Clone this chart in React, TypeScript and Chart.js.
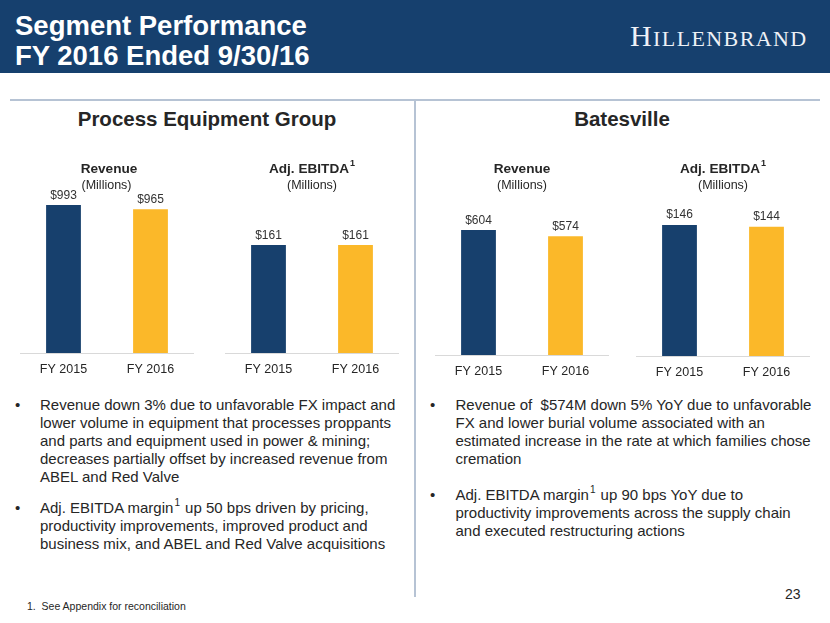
import React, { useEffect, useRef } from "react";
import { Chart, registerables } from "chart.js";

Chart.register(...registerables);

// ---------- data ----------
const categories = ["FY 2015", "FY 2016"];
const pegRevenue = [993, 965];
const pegEbitda = [161, 161];
const batesRevenue = [604, 574];
const batesEbitda = [146, 144];
const barColors = ["#17406d", "#fbb829"];

const FONT = "'Liberation Sans', Arial, Helvetica, sans-serif";
const TEXT = "#262626";
const NAVY = "#16406e";
const RULE = "#b6c3d4";

const leftBullet1 = [
  "Revenue down 3% due to unfavorable FX impact and",
  "lower volume in equipment that processes proppants",
  "and parts and equipment used in power & mining;",
  "decreases partially offset by increased revenue from",
  "ABEL and Red Valve",
];
const leftBullet2 = [
  ["Adj. EBITDA margin", "1", " up 50 bps driven by pricing,"],
  ["productivity improvements, improved product and"],
  ["business mix, and ABEL and Red Valve acquisitions"],
];
const rightBullet1 = [
  "Revenue of  $574M down 5% YoY due to unfavorable",
  "FX and lower burial volume associated with an",
  "estimated increase in the rate at which families chose",
  "cremation",
];
const rightBullet2 = [
  ["Adj. EBITDA margin", "1", " up 90 bps YoY due to"],
  ["productivity improvements across the supply chain"],
  ["and executed restructuring actions"],
];

const AXIS_H = 32;

// ---------- chart panel ----------
function BarPanel(props: {
  values: number[];
  yMax: number;
  left: number;
  top: number;
  width: number;
  height: number;
}) {
  const ref = useRef<HTMLCanvasElement | null>(null);
  useEffect(() => {
    const valueLabels = {
      id: "valueLabels",
      afterDatasetsDraw(chart: any) {
        const ctx = chart.ctx;
        const meta = chart.getDatasetMeta(0);
        const data = chart.data.datasets[0].data as number[];
        ctx.save();
        ctx.font = `12px ${FONT}`;
        ctx.fillStyle = "#333333";
        ctx.textAlign = "center";
        ctx.textBaseline = "alphabetic";
        meta.data.forEach((bar: any, i: number) => {
          ctx.fillText("$" + data[i], bar.x, bar.y - 6.5);
        });
        ctx.restore();
      },
    };
    const chart = new Chart(ref.current as HTMLCanvasElement, {
      type: "bar",
      data: {
        labels: categories,
        datasets: [
          {
            data: props.values,
            backgroundColor: barColors,
            borderWidth: 0,
            categoryPercentage: 0.4,
            barPercentage: 1,
          },
        ],
      },
      options: {
        responsive: false,
        maintainAspectRatio: false,
        animation: false,
        devicePixelRatio: 1,
        layout: { padding: { top: 30, left: 0, right: 0, bottom: 0 } },
        plugins: {
          legend: { display: false },
          tooltip: { enabled: false },
          title: { display: false },
        },
        scales: {
          x: {
            grid: { display: false, drawTicks: false },
            border: { display: true, color: "#d9d9d9", width: 1 },
            ticks: {
              color: TEXT,
              font: { family: FONT, size: 12.5 },
              padding: 9,
            },
            afterFit: (scale: any) => {
              scale.height = AXIS_H;
            },
          },
          y: { display: false, min: 0, max: props.yMax },
        },
      },
      plugins: [valueLabels],
    });
    return () => chart.destroy();
  }, []);
  return (
    <canvas
      ref={ref}
      width={props.width}
      height={props.height}
      style={{
        position: "absolute",
        left: props.left,
        top: props.top,
        width: props.width,
        height: props.height,
      }}
    />
  );
}

function ChartTitle(props: { cx: number; title: string; sup?: boolean; subCx: number }) {
  return (
    <>
      <div
        style={{
          position: "absolute",
          left: props.cx - 100,
          top: 161,
          width: 200,
          textAlign: "center",
          font: `bold 13.6px ${FONT}`,
          lineHeight: "16px",
          color: TEXT,
          whiteSpace: "nowrap",
        }}
      >
        {props.title}
        {props.sup ? (
          <span style={{ position: "absolute", fontSize: 9, marginLeft: 1, top: -6, fontWeight: "bold" }}>1</span>
        ) : null}
      </div>
      <div
        style={{
          position: "absolute",
          left: props.subCx - 100,
          top: 178,
          width: 200,
          textAlign: "center",
          font: `12.5px ${FONT}`,
          lineHeight: "14px",
          color: TEXT,
        }}
      >
        (Millions)
      </div>
    </>
  );
}

function Bullet(props: {
  lines: (string | string[])[];
  top: number;
  bulletX: number;
  textX: number;
}) {
  return (
    <div style={{ position: "absolute", left: 0, top: props.top }}>
      <div
        style={{
          position: "absolute",
          left: props.bulletX,
          top: 0,
          font: `15px ${FONT}`,
          lineHeight: "18px",
          color: TEXT,
        }}
      >
        •
      </div>
      {props.lines.map((ln, i) => (
        <div
          key={i}
          style={{
            position: "absolute",
            left: props.textX,
            top: i * 18.1,
            font: `15px ${FONT}`,
            lineHeight: "18px",
            color: TEXT,
            whiteSpace: "pre",
          }}
        >
          {typeof ln === "string" ? (
            ln
          ) : ln.length === 1 ? (
            ln[0]
          ) : (
            <>
              {ln[0]}
              <span style={{ position: "relative", top: -7, fontSize: 10, marginLeft: 1, marginRight: 1 }}>
                {ln[1]}
              </span>
              {ln[2]}
            </>
          )}
        </div>
      ))}
    </div>
  );
}

export default function App() {
  useEffect(() => {
    document.body.style.margin = "0";
  }, []);
  return (
    <div
      style={{
        position: "absolute",
        left: 0,
        top: 0,
        width: 830,
        height: 623,
        background: "#ffffff",
        overflow: "hidden",
        fontFamily: FONT,
      }}
    >
      {/* header band */}
      <div style={{ position: "absolute", left: 0, top: 0, width: 830, height: 73, background: NAVY }} />
      <div
        style={{
          position: "absolute",
          left: 15,
          top: 11,
          font: `bold 27.5px ${FONT}`,
          lineHeight: "30px",
          color: "#ffffff",
          whiteSpace: "nowrap",
        }}
      >
        Segment Performance
        <br />
        FY 2016 Ended 9/30/16
      </div>
      <div
        style={{
          position: "absolute",
          left: 630,
          top: 21,
          fontFamily: "'Liberation Serif', 'Times New Roman', serif",
          lineHeight: "30px",
          color: "#eef1f6",
          letterSpacing: "1.4px",
          whiteSpace: "nowrap",
        }}
      >
        <span style={{ fontSize: 30 }}>H</span>
        <span style={{ fontSize: 22 }}>ILLENBRAND</span>
      </div>

      {/* rules */}
      <div style={{ position: "absolute", left: 10, top: 99, width: 810, height: 2, background: RULE }} />
      <div style={{ position: "absolute", left: 414, top: 100, width: 2, height: 497, background: RULE }} />

      {/* section headers */}
      <div
        style={{
          position: "absolute",
          left: 7,
          top: 106.5,
          width: 400,
          textAlign: "center",
          font: `bold 20.5px ${FONT}`,
          lineHeight: "24px",
          color: TEXT,
        }}
      >
        Process Equipment Group
      </div>
      <div
        style={{
          position: "absolute",
          left: 422,
          top: 106.5,
          width: 400,
          textAlign: "center",
          font: `bold 20.5px ${FONT}`,
          lineHeight: "24px",
          color: TEXT,
        }}
      >
        Batesville
      </div>

      {/* charts: canvas bottom = baseline + AXIS_H */}
      <BarPanel values={pegRevenue} yMax={1161} left={19.5} top={150} width={174} height={353 + AXIS_H - 150} />
      <BarPanel values={pegEbitda} yMax={258} left={225} top={150} width={174} height={353 + AXIS_H - 150} />
      <BarPanel values={batesRevenue} yMax={846} left={435} top={150} width={174} height={355 + AXIS_H - 150} />
      <BarPanel values={batesEbitda} yMax={196} left={636} top={150} width={174} height={356 + AXIS_H - 150} />

      <ChartTitle cx={109} subCx={106.5} title="Revenue" />
      <ChartTitle cx={309} subCx={312} title="Adj. EBITDA" sup />
      <ChartTitle cx={522} subCx={522} title="Revenue" />
      <ChartTitle cx={720} subCx={723} title="Adj. EBITDA" sup />

      {/* bullets */}
      <Bullet lines={leftBullet1} top={395.5} bulletX={15} textX={40} />
      <Bullet lines={leftBullet2} top={499} bulletX={15} textX={40} />
      <Bullet lines={rightBullet1} top={395.5} bulletX={430} textX={455.5} />
      <Bullet lines={rightBullet2} top={485.5} bulletX={430} textX={455.5} />

      {/* footnote */}
      <div
        style={{
          position: "absolute",
          left: 27,
          top: 600,
          font: `10.5px ${FONT}`,
          lineHeight: "13px",
          color: TEXT,
          whiteSpace: "pre",
        }}
      >
        1.  See Appendix for reconciliation
      </div>

      {/* page number */}
      <div
        style={{
          position: "absolute",
          left: 785,
          top: 585.5,
          font: `14px ${FONT}`,
          lineHeight: "16px",
          color: TEXT,
        }}
      >
        23
      </div>
    </div>
  );
}
